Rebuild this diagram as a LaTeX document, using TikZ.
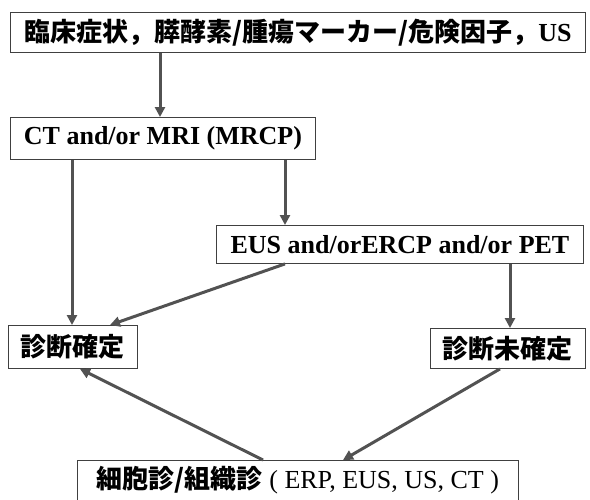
\documentclass[tikz,border=0pt]{standalone}
\usepackage{fontspec}
\setmainfont{Liberation Serif}
\newfontfamily\jp{Noto Sans CJK JP}
\usetikzlibrary{arrows.meta}
\begin{document}
\begin{tikzpicture}[x=1pt,y=-1pt,
  box/.style={draw=black!75, line width=0.9pt, inner sep=0pt, anchor=north west,
              font=\fontsize{26}{30}\selectfont},
  arr/.style={draw=black!68, line width=3pt, -{Triangle[length=10pt,width=10pt]}}]
\useasboundingbox (0,0) rectangle (590,499);
\clip (0,0) rectangle (590,499);
\node[box, minimum width=575pt, minimum height=40pt] (b1) at (10,12)
  {{\jp\bfseries 臨床症状，膵酵素/腫瘍マーカー/危険因子，}\bfseries US};
\node[box, minimum width=305pt, minimum height=42pt] (b2) at (10,117)
  {\bfseries CT and/or MRI (MRCP)};
\node[box, minimum width=367pt, minimum height=38pt] (b3) at (216,225)
  {\bfseries EUS and/orERCP and/or PET};
\node[box, minimum width=129pt, minimum height=43pt] (b4) at (8,325)
  {\jp\bfseries 診断確定};
\node[box, minimum width=155pt, minimum height=40pt] (b5) at (430,328)
  {\jp\bfseries 診断未確定};
\node[box, minimum width=441pt, minimum height=40pt] (b6) at (77,460)
  {{\jp\bfseries 細胞診/組織診} ( ERP, EUS, US, CT )};
\draw[arr] ([xshift=150pt]b1.south west) -- ([xshift=150pt]b2.north west);
\draw[arr] ([xshift=275pt]b2.south west) -- ([xshift=69pt]b3.north west);
\draw[arr] ([xshift=62pt]b2.south west) -- ([xshift=64pt]b4.north west);
\draw[arr] ([xshift=69pt]b3.south west) -- ([xshift=102pt]b4.north west);
\draw[arr] ([xshift=294pt]b3.south west) -- ([xshift=80pt]b5.north west);
\draw[arr] ([xshift=70pt]b5.south west) -- ([xshift=266pt]b6.north west);
\draw[arr] ([xshift=186pt]b6.north west) -- ([xshift=72pt]b4.south west);
\end{tikzpicture}
\end{document}
